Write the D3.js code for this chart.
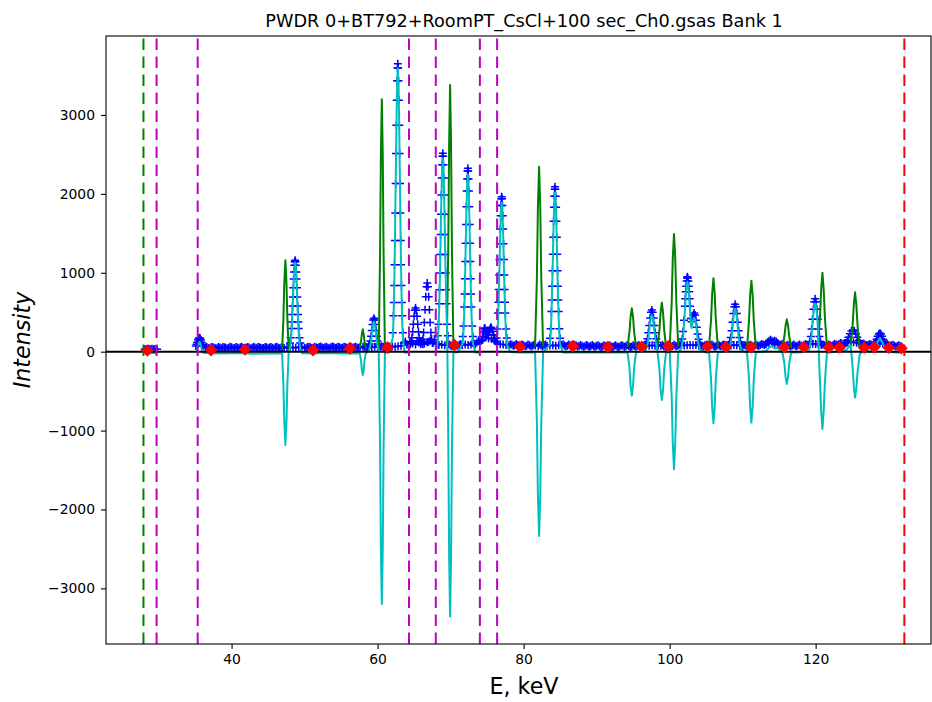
<!DOCTYPE html>
<html>
<head>
<meta charset="utf-8">
<script src="https://cdn.jsdelivr.net/npm/d3@7"></script>
<style>
  body { margin: 0; background: #ffffff; }
  svg text { font-family: "DejaVu Sans", sans-serif; fill: #000000; }
</style>
</head>
<body>
<div id="canvas"></div>
<script>
// Observed intensities, background level (E keV, counts)
var obs_base = [
  [28.1,30],[28.3,35],[28.5,28],[28.7,38],[28.9,32],[29.1,36],[29.3,30],[29.5,34],[29.8,31],
  [36.4,52],[36.8,47],[37.2,55],[37.6,50],[38.0,45],[38.4,53],[38.8,58],[39.2,49],[39.6,51],[40.0,55],
  [40.4,48],[40.8,52],[41.2,57],[41.6,46],[42.0,50],[42.4,54],[42.8,49],[43.2,53],[43.6,58],[44.0,51],
  [44.4,47],[44.8,55],[45.2,52],[45.6,49],[46.0,56],[46.4,50],[46.8,53],[47.2,48],[47.6,57],[48.0,52],
  [48.4,54],[48.8,50],[49.2,56],[49.6,53],[50.0,49],[50.4,58],[50.8,55],[51.2,51],[51.6,54],[52.0,60],
  [52.4,52],[52.8,57],[53.2,50],[53.6,55],[54.0,59],[54.4,53],[54.8,56],[55.2,51],[55.6,58],[56.0,54],
  [56.4,60],[56.8,55],[57.2,52],[57.6,58],[58.0,61],[58.4,56],[58.8,62],[59.2,58],[59.6,64],[60.0,59],
  [60.4,63],[60.8,60],[61.2,66],[61.6,62],[62.0,68],[62.4,64],[62.8,70],[63.2,75],[63.6,110],[64.0,95],
  [64.4,120],[64.8,105],[65.2,90],[65.6,115],[66.0,130],[66.4,100],[66.8,120],[67.2,140],[67.6,110],[68.0,95],
  [68.4,85],[68.8,90],[69.2,80],[69.6,84],[70.0,78],[70.4,86],[70.8,81],[71.2,88],[71.6,83],[72.0,90],
  [72.4,85],[72.8,92],[73.2,100],[73.6,115],[74.0,130],[74.4,150],[74.8,180],[75.2,170],[75.6,160],[76.0,140],
  [76.4,110],[76.8,95],[77.2,90],[77.6,86],[78.0,82],[78.4,88],[78.8,80],[79.2,84],[79.6,78],[80.0,83],
  [80.4,76],[80.8,81],[81.2,74],[81.6,79],[82.0,72],[82.4,77],[82.8,80],[83.2,74],[83.6,78],[84.0,82],
  [84.4,76],[84.8,80],[85.2,85],[85.6,78],[86.0,74],[86.4,79],[86.8,72],[87.2,77],[87.6,73],[88.0,76],
  [88.4,70],[88.8,75],[89.2,72],[89.6,68],[90.0,74],[90.4,70],[90.8,66],[91.2,72],[91.6,69],[92.0,65],
  [92.4,71],[92.8,67],[93.2,70],[93.6,74],[94.0,68],[94.4,72],[94.8,66],[95.2,71],[95.6,75],[96.0,69],
  [96.4,73],[96.8,78],[97.2,74],[97.6,80],[98.0,76],[98.4,71],[98.8,75],[99.2,70],[99.6,73],[100.0,77],
  [100.4,72],[100.8,76],[101.2,80],[101.6,84],[102.0,78],[102.4,82],[102.8,86],[103.2,80],[103.6,84],[104.0,78],
  [104.4,74],[104.8,79],[105.2,75],[105.6,80],[106.0,76],[106.4,72],[106.8,78],[107.2,82],[107.6,77],[108.0,73],
  [108.4,79],[108.8,84],[109.2,80],[109.6,76],[110.0,72],[110.4,78],[110.8,74],[111.2,79],[111.6,75],[112.0,80],
  [112.4,85],[112.8,90],[113.2,98],[113.6,105],[114.0,110],[114.4,102],[114.8,96],[115.2,88],[115.6,82],[116.0,78],
  [116.4,74],[116.8,79],[117.2,75],[117.6,80],[118.0,77],[118.4,83],[118.8,88],[119.2,95],[119.6,100],[120.0,96],
  [120.4,90],[120.8,84],[121.2,80],[121.6,76],[122.0,81],[122.4,86],[122.8,92],[123.2,98],[123.6,104],[124.0,110],
  [124.4,118],[124.8,125],[125.2,120],[125.6,112],[126.0,104],[126.4,96],[126.8,88],[127.2,84],[127.6,90],[128.0,98],
  [128.4,105],[128.8,110],[129.2,102],[129.6,94],[130.0,86],[130.4,80],[130.8,76],[131.2,72],[131.6,68],
  [36.6,62],[37.0,40],[37.4,58],[37.8,44],[38.2,60],[38.6,42],[39.0,57],[39.4,41],[39.8,61],[40.2,44],
  [40.6,59],[41.0,43],[41.4,62],[41.8,45],[42.2,58],[42.6,40],[43.0,61],[43.4,44],[43.8,57],[44.2,42],
  [44.6,60],[45.0,45],[45.4,58],[45.8,41],[46.2,62],[46.6,44],[47.0,59],[49.6,64],[50.2,45],[50.6,62],
  [51.0,47],[51.4,63],[51.8,46],[52.2,65],[52.6,48],[53.0,62],[53.4,45],[53.8,66],[54.2,47],[54.6,63],
  [55.0,48],[55.4,64],[55.8,46],[56.2,66],[56.6,49],[57.0,63],[57.4,47],[58.2,67],[58.6,50],[60.6,70],
  [61.0,54],[61.4,72],[61.8,56],[63.8,130],[64.2,85],[65.4,140],[66.2,95],[67.0,125],[67.8,150],[68.2,100],
  [69.8,95],[70.2,72],[70.6,98],[71.0,75],[71.4,96],[73.0,110],[73.4,95],[73.8,140],[78.2,95],[78.6,74],
  [79.0,96],[79.4,72],[79.8,92],[80.2,70],[80.6,90],[81.0,68],[81.4,88],[82.2,90],[82.6,69],[83.0,92],
  [85.4,94],[85.8,70],[86.2,90],[86.6,68],[87.0,88],[87.4,66],[87.8,86],[88.2,64],[88.6,85],[89.0,62],
  [89.4,84],[89.8,61],[90.2,82],[90.6,60],[91.0,80],[91.4,62],[91.8,81],[92.2,58],[92.6,80],[93.0,60],
  [93.4,82],[93.8,62],[94.2,84],[94.6,60],[95.0,82],[95.4,62],[95.8,86],[96.2,62],[96.6,88],[99.0,86],
  [99.4,64],[99.8,85],[100.2,66],[100.6,88],[101.0,68],[101.4,92],[104.2,90],[104.6,66],[105.0,88],[105.4,68],
  [105.8,90],[106.2,64],[106.6,88],[107.0,70],[107.4,92],[107.8,66],[108.2,88],[110.2,86],[110.6,64],[111.0,88],
  [111.4,66],[111.8,90],[112.2,72],[112.6,96],[113.0,84],[115.4,96],[115.8,70],[116.2,88],[116.6,66],[117.0,90],
  [117.4,68],[117.8,92],[118.2,70],[118.6,96],[121.0,92],[121.4,68],[121.8,92],[122.2,72],[122.6,100],[123.0,84],
  [123.4,110],[126.6,104],[127.0,80],[127.4,96],[129.8,98],[130.2,74],[130.6,88],[131.0,66],[131.4,80],[131.8,60]
];

var obs_peaks = [
  [35.1,73],[35.2,94],[35.3,120],[35.4,147],[35.5,167],[35.6,175],[35.7,167],[35.8,147],[35.9,120],[36.0,94],[36.1,73],
  [48.0,110],[48.1,177],[48.2,295],[48.3,470],[48.4,693],[48.5,920],[48.6,1094],[48.7,1160],[48.8,1094],[48.9,920],[49.0,693],[49.1,470],[49.2,295],[49.3,177],[49.4,110],
  [48.25,375],[48.35,580],[48.45,810],[48.55,1010],[48.65,1140],[48.75,1140],[48.85,1010],[48.95,810],[49.05,580],[49.15,375],
  [58.8,74],[58.9,96],[59.0,135],[59.1,194],[59.2,268],[59.3,345],[59.4,403],[59.5,425],[59.6,403],[59.7,345],[59.8,268],[59.9,194],[60.0,135],[60.1,96],[60.2,74],
  [62.07,240],[62.17,455],[62.27,839],[62.37,1410],[62.47,2131],[62.57,2871],[62.67,3435],[62.77,3650],[62.87,3435],[62.97,2871],[63.07,2131],[63.17,1410],[63.27,839],[63.37,455],[63.47,240],
  [62.22,624],[62.32,1101],[62.42,1758],[62.52,2512],[62.62,3187],[62.72,3596],[62.82,3596],[62.92,3187],[63.02,2512],[63.12,1758],[63.22,1101],[63.32,624],
  [64.5,94],[64.6,123],[64.7,175],[64.8,252],[64.9,349],[65.0,448],[65.1,524],[65.2,553],[65.3,524],[65.4,448],[65.5,349],[65.6,252],[65.7,175],[65.8,123],[65.9,94],
  [66.1,110],[66.2,158],[66.3,244],[66.4,371],[66.5,532],[66.6,696],[66.7,822],[66.8,870],[66.9,822],[67.0,696],[67.1,532],[67.2,371],[67.3,244],[67.4,158],[67.5,110],
  [68.23,202],[68.33,348],[68.43,608],[68.53,996],[68.63,1485],[68.73,1987],[68.83,2369],[68.93,2515],[69.03,2369],[69.13,1987],[69.23,1485],[69.33,996],[69.43,608],[69.53,348],[69.63,202],
  [68.48,786],[68.58,1232],[68.68,1743],[68.78,2201],[68.88,2478],[68.98,2478],[69.08,2201],[69.18,1743],[69.28,1232],[69.38,786],
  [71.66,192],[71.76,327],[71.86,567],[71.96,924],[72.06,1375],[72.16,1838],[72.26,2190],[72.36,2325],[72.46,2190],[72.56,1838],[72.66,1375],[72.76,924],[72.86,567],[72.96,327],[73.06,192],
  [71.91,731],[72.01,1142],[72.11,1613],[72.21,2035],[72.31,2291],[72.41,2291],[72.51,2035],[72.61,1613],[72.71,1142],[72.81,731],
  [74.2,140],[74.35,190],[74.5,250],[74.6,290],[74.7,300],[74.8,270],[74.95,230],[75.1,210],[75.25,250],[75.4,290],[75.5,310],[75.6,300],[75.75,260],[75.9,210],[76.05,170],[76.2,130],
  [76.3,174],[76.4,287],[76.5,489],[76.6,789],[76.7,1168],[76.8,1556],[76.9,1852],[77.0,1965],[77.1,1852],[77.2,1556],[77.3,1168],[77.4,789],[77.5,489],[77.6,287],[77.7,174],
  [76.55,627],[76.65,972],[76.75,1367],[76.85,1722],[76.95,1937],[77.05,1937],[77.15,1722],[77.25,1367],[77.35,972],[77.45,627],
  [83.6,171],[83.7,292],[83.8,508],[83.9,830],[84.0,1236],[84.1,1652],[84.2,1969],[84.3,2090],[84.4,1969],[84.5,1652],[84.6,1236],[84.7,830],[84.8,508],[84.9,292],[85.0,171],
  [83.85,656],[83.95,1025],[84.05,1450],[84.15,1829],[84.25,2060],[84.35,2060],[84.45,1829],[84.55,1450],[84.65,1025],[84.75,656],
  [96.72,88],[96.84,116],[96.96,165],[97.08,239],[97.2,332],[97.32,428],[97.44,500],[97.56,528],[97.68,500],[97.8,428],[97.92,332],[98.04,239],[98.16,165],[98.28,116],[98.4,88],
  [101.6,109],[101.72,162],[101.84,257],[101.96,398],[102.08,576],[102.2,758],[102.32,897],[102.44,950],[102.56,897],[102.68,758],[102.8,576],[102.92,420],[103.0,380],
  [102.14,670],[102.26,830],[102.38,935],[102.5,930],[102.62,830],[102.74,670],
  [103.12,420],[103.24,465],[103.36,490],[103.48,465],[103.6,398],[103.72,310],[103.84,225],[103.96,157],[104.08,112],[104.2,86],
  [108.13,92],[108.25,124],[108.37,181],[108.49,266],[108.61,374],[108.73,484],[108.85,568],[108.97,600],[109.09,568],[109.21,484],[109.33,374],[109.45,266],[109.57,181],[109.69,124],[109.81,92],
  [113.2,100],[113.4,120],[113.6,135],[113.8,150],[114.0,140],[114.2,125],[114.4,140],[114.6,130],[114.8,110],
  [119.09,91],[119.21,127],[119.33,192],[119.45,289],[119.57,412],[119.69,538],[119.81,633],[119.93,670],[120.05,633],[120.17,538],[120.29,412],[120.41,289],[120.53,192],[120.65,127],[120.77,91],
  [123.7,71],[123.9,84],[124.1,107],[124.3,141],[124.5,184],[124.7,228],[124.9,262],[125.1,275],[125.3,262],[125.5,228],[125.7,184],[125.9,141],[126.1,107],[126.3,84],[126.5,71],
  [127.75,64],[127.9,75],[128.05,94],[128.2,123],[128.35,159],[128.5,196],[128.65,224],[128.8,235],[128.95,224],[129.1,196],[129.25,159],[129.4,123],[129.55,94],[129.7,75],[129.85,64]
];

// Calculated pattern, drawn as separate peak segments (null = break)
var calc = [
  [46.92,22],[47.1,420],[47.22,870],[47.37,1160],[47.52,870],[47.64,420],[47.82,22], null,
  [57.55,45],[57.73,130],[57.84,220],[57.97,283],[58.1,220],[58.21,130],[58.39,45], null,
  [60.16,50],[60.34,1250],[60.45,2500],[60.58,3198],[60.71,2500],[60.82,1250],[61.0,50], null,
  [69.48,82],[69.68,1320],[69.8,2640],[69.93,3380],[70.06,2640],[70.18,1320],[70.38,82], null,
  [81.57,65],[81.82,940],[81.96,1840],[82.12,2345],[82.28,1840],[82.42,940],[82.67,65], null,
  [94.24,62],[94.5,250],[94.65,440],[94.82,550],[94.99,440],[95.14,250],[95.4,62], null,
  [98.35,66],[98.61,280],[98.76,495],[98.93,621],[99.1,495],[99.25,280],[99.51,66], null,
  [100.02,67],[100.28,620],[100.43,1180],[100.6,1491],[100.77,1180],[100.92,620],[101.18,67], null,
  [105.4,63],[105.67,400],[105.83,740],[106.0,930],[106.17,740],[106.33,400],[106.6,63], null,
  [110.6,57],[110.87,390],[111.03,715],[111.2,900],[111.37,715],[111.53,390],[111.8,57], null,
  [115.45,57],[115.72,195],[115.88,330],[116.05,410],[116.22,330],[116.38,195],[116.65,57], null,
  [120.31,56],[120.59,430],[120.76,795],[120.93,1001],[121.1,795],[121.27,430],[121.55,56], null,
  [124.78,52],[125.06,330],[125.23,600],[125.4,752],[125.57,600],[125.74,330],[126.02,52]
];

// Observed minus calculated (null = excluded region)
var diff = [
  [28.1,-15],[28.4,-22],[28.7,-12],[29.0,-20],[29.3,-14],[29.6,-18],[29.8,-15], null,
  [35.2,-10],[35.3,30],[35.4,75],[35.5,110],[35.6,125],[35.7,110],[35.8,75],[35.9,30],[36.1,-15],[37.0,-20],[39.0,-24],[41.0,-18],[43.0,-25],[45.0,-20],
  [46.92,-22],[47.1,-420],[47.22,-880],[47.37,-1182],[47.52,-880],[47.64,-420],[47.82,-22],
  [48.0,38],[48.2,230],[48.3,412],[48.4,644],[48.5,880],[48.6,1061],[48.7,1130],[48.8,1061],[48.9,880],[49.0,644],[49.1,412],[49.2,230],[49.4,38],
  [49.7,-20],[51.0,-22],[53.0,-18],[55.0,-24],[57.55,-20],[57.73,-110],[57.84,-230],[57.97,-295],[58.1,-230],[58.21,-110],[58.39,-18],
  [58.8,5],[59.0,71],[59.1,134],[59.2,213],[59.3,294],[59.4,356],[59.5,380],[59.6,356],[59.7,294],[59.8,213],[59.9,134],[60.0,71],
  [60.16,-5],[60.34,-1220],[60.45,-2480],[60.58,-3197],[60.71,-2480],[60.82,-1220],[61.0,-15],[61.5,-12],
  [62.07,170],[62.17,387],[62.27,772],[62.37,1346],[62.47,2070],[62.57,2813],[62.67,3379],[62.77,3595],[62.87,3379],[62.97,2813],[63.07,2070],[63.17,1346],[63.27,772],[63.37,387],[63.47,170],
  [63.7,-10],[64.3,-10], null,
  [68.0,-5],[68.23,118],[68.33,265],[68.43,528],[68.53,918],[68.63,1412],[68.73,1917],[68.83,2303],[68.93,2450],[69.03,2303],[69.13,1917],[69.23,1412],[69.33,918],[69.43,528],
  [69.53,250],[69.68,-1100],[69.8,-2600],[69.93,-3357],[70.06,-2620],[70.18,-1280],[70.38,-10],[71.0,-8],
  [71.66,103],[71.76,238],[71.86,479],[71.96,838],[72.06,1291],[72.16,1756],[72.26,2110],[72.36,2245],[72.46,2110],[72.56,1756],[72.66,1291],[72.76,838],[72.86,479],[72.96,238],[73.06,103],
  [73.4,-10],[74.0,-10], null,
  [76.4,203],[76.5,406],[76.6,708],[76.7,1088],[76.8,1479],[76.9,1776],[77.0,1890],[77.1,1776],[77.2,1479],[77.3,1088],[77.4,708],[77.5,406],[77.6,203],[77.7,90],
  [78.2,-5],[79.5,-12],[81.57,-10],[81.82,-900],[81.96,-1820],[82.12,-2335],[82.28,-1820],[82.42,-900],[82.67,-10],
  [83.6,92],[83.7,213],[83.8,430],[83.9,753],[84.0,1161],[84.1,1580],[84.2,1898],[84.3,2020],[84.4,1898],[84.5,1580],[84.6,1161],[84.7,753],[84.8,430],[84.9,213],[85.0,92],
  [85.4,-10],[87.0,-6],[89.0,-12],[91.0,-8],[93.0,-10],[94.24,-10],[94.5,-200],[94.65,-430],[94.82,-557],[94.99,-430],[95.14,-200],[95.4,-10],
  [96.72,14],[96.96,93],[97.08,169],[97.2,264],[97.32,362],[97.44,436],[97.56,465],[97.68,436],[97.8,362],[97.92,264],[98.04,169],[98.16,93],
  [98.35,-5],[98.61,-230],[98.76,-480],[98.93,-612],[99.1,-480],[99.25,-230],[99.51,-10],
  [100.02,-10],[100.28,-560],[100.43,-1160],[100.6,-1490],[100.77,-1160],[100.92,-560],[101.18,-10],
  [101.6,35],[101.84,184],[101.96,326],[102.08,506],[102.2,691],[102.32,831],[102.44,885],[102.56,831],[102.68,691],[102.8,506],[102.92,330],
  [103.0,300],[103.12,360],[103.24,410],[103.36,430],[103.48,410],[103.6,350],[103.72,260],[103.84,170],[103.96,95],[104.2,20],[105.0,-10],
  [105.4,-10],[105.67,-340],[105.83,-710],[106.0,-907],[106.17,-710],[106.33,-340],[106.6,-10],
  [108.13,18],[108.37,109],[108.49,197],[108.61,307],[108.73,421],[108.85,507],[108.97,540],[109.09,507],[109.21,421],[109.33,307],[109.45,197],[109.57,109],[109.81,18],
  [110.6,-10],[110.87,-340],[111.03,-700],[111.2,-899],[111.37,-700],[111.53,-340],[111.8,-10],
  [113.2,10],[113.6,50],[114.0,70],[114.4,40],[114.8,50],[115.2,0],
  [115.45,-10],[115.72,-150],[115.88,-320],[116.05,-409],[116.22,-320],[116.38,-150],[116.65,-10],[118.0,-8],
  [119.09,21],[119.33,125],[119.45,223],[119.57,348],[119.69,475],[119.81,573],[119.93,610],[120.05,573],[120.17,475],[120.29,330],
  [120.41,60],[120.53,-250],[120.65,-500],[120.76,-760],[120.93,-979],[121.1,-760],[121.27,-380],[121.55,-10],
  [122.5,-5],[123.5,10],[124.2,20],[124.5,60],[124.78,80],[125.0,-120],[125.12,-280],[125.25,-470],[125.4,-582],[125.57,-470],[125.74,-260],[126.02,-40],[126.4,20],
  [127.6,0],[128.2,60],[128.5,130],[128.8,170],[129.1,130],[129.4,60],[130.0,0],[131.0,-10],[131.8,-12]
];

// Fixed background points
var bkg_points = [
  [28.47,15],[37.19,20],[41.85,28],[51.16,20],[56.23,42],[61.34,52],[70.52,85],[79.52,63],
  [86.74,70],[91.53,58],[96.19,63],[99.84,68],[105.2,65],[107.7,60],[111.16,57],[115.68,57],
  [118.38,57],[121.85,55],[123.26,55],[126.64,50],[128.01,55],[130.03,50],[131.75,43]
];

// Limits and excluded region edges (E keV)
var lower_limit = [27.93];
var excluded_edges = [29.73, 35.36, 64.30, 67.97, 74.01, 76.37];
var upper_limit = [132.15];

var x_ticks = [40, 60, 80, 100, 120];
var y_ticks = [-3000, -2000, -1000, 0, 1000, 2000, 3000];

var title_text = "PWDR 0+BT792+RoomPT_CsCl+100 sec_Ch0.gsas Bank 1";


function redraw() {
  var canvas_w = 932;
  var canvas_h = 702;
  var left = 106, right = 931, top = 36, bottom = 644;

  var canvas = d3.select("#canvas").append("svg")
    .attr("width", canvas_w)
    .attr("height", canvas_h);

  var x = d3.scaleLinear().domain([22.8, 135.8]).range([left, right]);
  var y = d3.scaleLinear().domain([-3705, 4001]).range([bottom, top]);

  canvas.append("defs").append("clipPath")
    .attr("id", "plot-area")
    .append("rect")
    .attr("x", left)
    .attr("y", top)
    .attr("width", right - left)
    .attr("height", bottom - top);

  var plot = canvas.append("g").attr("clip-path", "url(#plot-area)");

  var line = d3.line()
    .defined(function(d) { return d !== null; })
    .x(function(d) { return x(d[0]); })
    .y(function(d) { return y(d[1]); });

  // Observed points as '+'
  var plus = "M-4,0H4M0,-4V4";
  plot.append("g")
    .selectAll("path")
    .data(obs_base.concat(obs_peaks))
    .enter().append("path")
    .attr("d", plus)
    .attr("transform", function(d) { return "translate(" + x(d[0]) + "," + y(d[1]) + ")"; })
    .style("stroke", "#0000ff")
    .style("stroke-width", 1.5)
    .style("fill", "none");

  // Calculated
  plot.append("path")
    .attr("d", line(calc))
    .style("fill", "none")
    .style("stroke", "#008000")
    .style("stroke-width", 2)
    .style("stroke-linejoin", "round");

  // Difference
  plot.append("path")
    .attr("d", line(diff))
    .style("fill", "none")
    .style("stroke", "#00bfbf")
    .style("stroke-width", 2)
    .style("stroke-linejoin", "round");

  // Zero line
  plot.append("line")
    .attr("x1", left)
    .attr("x2", right)
    .attr("y1", y(0))
    .attr("y2", y(0))
    .style("stroke", "#000000")
    .style("stroke-width", 2);

  // Limit lines
  function drawLimits(values, color) {
    plot.append("g")
      .selectAll("line")
      .data(values)
      .enter().append("line")
      .attr("x1", function(d) { return x(d); })
      .attr("x2", function(d) { return x(d); })
      .attr("y1", bottom)
      .attr("y2", top)
      .style("stroke", color)
      .style("stroke-width", 2)
      .style("stroke-dasharray", "11.5,6.5");
  }
  drawLimits(lower_limit, "#008000");
  drawLimits(excluded_edges, "#bf00bf");
  drawLimits(upper_limit, "#ff0000");

  // Background points
  plot.append("g")
    .selectAll("path")
    .data(bkg_points)
    .enter().append("path")
    .attr("d", "M0,-6.3L6.3,0L0,6.3L-6.3,0Z")
    .attr("transform", function(d) { return "translate(" + x(d[0]) + "," + y(d[1]) + ")"; })
    .style("fill", "#ff0000")
    .style("stroke", "none");

  // Axes
  var x_axis = canvas.append("g")
    .attr("transform", "translate(0," + bottom + ")")
    .call(d3.axisBottom(x).tickValues(x_ticks).tickSize(5).tickPadding(5).tickFormat(d3.format("d")));
  var y_axis = canvas.append("g")
    .attr("transform", "translate(" + left + ",0)")
    .call(d3.axisLeft(y).tickValues(y_ticks).tickSize(5).tickPadding(6).tickFormat(d3.format("d")));

  [x_axis, y_axis].forEach(function(ax) {
    ax.select(".domain").remove();
    ax.selectAll("line").style("stroke", "#000000").style("stroke-width", 1.1);
    ax.selectAll("text")
      .style("font-size", "13.9px")
      .style("font-family", "'DejaVu Sans', sans-serif")
      .style("fill", "#000000");
  });

  // Frame
  canvas.append("rect")
    .attr("x", left)
    .attr("y", top)
    .attr("width", right - left)
    .attr("height", bottom - top)
    .style("fill", "none")
    .style("stroke", "#000000")
    .style("stroke-width", 1.1);

  // Labels
  canvas.append("text")
    .attr("x", 524)
    .attr("y", 27)
    .attr("text-anchor", "middle")
    .style("font-size", "17.7px")
    .text(title_text);

  canvas.append("text")
    .attr("x", 524)
    .attr("y", 694)
    .attr("text-anchor", "middle")
    .style("font-size", "22.2px")
    .text("E, keV");

  canvas.append("text")
    .attr("transform", "translate(30," + ((top + bottom) / 2) + ") rotate(-90)")
    .attr("text-anchor", "middle")
    .style("font-size", "22.2px")
    .style("font-style", "italic")
    .text("Intensity");
}

redraw();
</script>
</body>
</html>
